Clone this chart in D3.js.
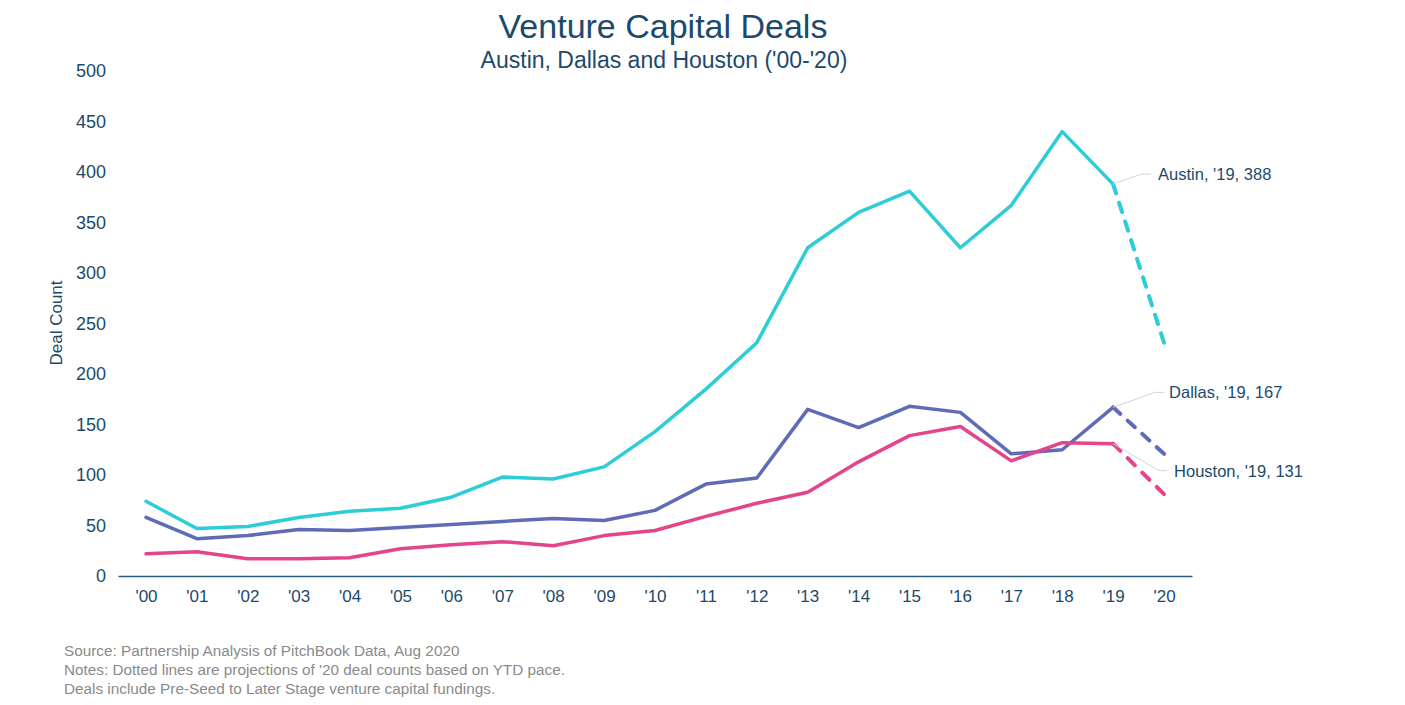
<!DOCTYPE html>
<html>
<head>
<meta charset="utf-8">
<script src="https://cdn.jsdelivr.net/npm/d3@7"></script>
<style>
  html, body { margin: 0; padding: 0; background: #fff; }
  svg { display: block; font-family: "Liberation Sans", Arial, sans-serif; }
</style>
</head>
<body>
<svg id="chart" width="1405" height="705"></svg>
<script>
const years = ["'00","'01","'02","'03","'04","'05","'06","'07","'08","'09","'10","'11","'12","'13","'14","'15","'16","'17","'18","'19","'20"];
const austin  = [74, 47, 49, 58, 64, 67, 78, 98, 96, 108, 143, 185, 231, 325, 360, 381, 325, 367, 440, 388, 231];
const dallas  = [58, 37, 40, 46, 45, 48, 51, 54, 57, 55, 65, 91, 97, 165, 147, 168, 162, 121, 125, 167, 121];
const houston = [22, 24, 17, 17, 18, 27, 31, 34, 30, 40, 45, 59, 72, 83, 113, 139, 148, 114, 132, 131, 81];
const yTicks = [0, 50, 100, 150, 200, 250, 300, 350, 400, 450, 500];
const seriesNames = ["Austin", "Dallas", "Houston"];
const seriesColors = ["#2ccdd6", "#5f6bb7", "#e5438a"];
const titleText = "Venture Capital Deals";
const subtitleText = "Austin, Dallas and Houston ('00-'20)";
const yAxisTitle = "Deal Count";
const footnotes = [
  "Source: Partnership Analysis of PitchBook Data, Aug 2020",
  "Notes: Dotted lines are projections of '20 deal counts based on YTD pace.",
  "Deals include Pre-Seed to Later Stage venture capital fundings."
];

const svg = d3.select("#chart");
const textColor = "#1c4a6b";

const x = d3.scalePoint().domain(years).range([118, 1192]).padding(0.55);
const y = d3.scaleLinear().domain([0, 500]).range([576, 71]);

// Title
svg.append("text").attr("x", 663).attr("y", 38).attr("text-anchor", "middle")
  .attr("font-size", 34).attr("fill", textColor).text(titleText);
svg.append("text").attr("x", 664).attr("y", 68).attr("text-anchor", "middle")
  .attr("font-size", 23).attr("fill", textColor).text(subtitleText);

// Y axis (labels only)
const yAxis = d3.axisLeft(y).tickValues(yTicks).tickSize(0).tickPadding(0);
const gy = svg.append("g").attr("transform", "translate(106,0)").call(yAxis);
gy.select(".domain").remove();
gy.selectAll("text").attr("font-size", 18).attr("fill", textColor)
  .attr("font-family", "'Liberation Sans', Arial, sans-serif");

// X axis
const xAxis = d3.axisBottom(x).tickSize(0).tickPadding(14);
const gx = svg.append("g").attr("transform", `translate(0,${y(0)})`).call(xAxis);
gx.select(".domain").attr("stroke", "#2c5f80").attr("stroke-width", 1.5);
gx.selectAll("text").attr("font-size", 17).attr("fill", textColor)
  .attr("font-family", "'Liberation Sans', Arial, sans-serif");

// Y axis title
svg.append("text").attr("transform", "translate(62,323) rotate(-90)")
  .attr("text-anchor", "middle").attr("font-size", 17).attr("fill", textColor).text(yAxisTitle);

// Lines
const data = [austin, dallas, houston];
const line = d3.line().x(d => x(d.year)).y(d => y(d.value));
data.forEach((vals, i) => {
  const pts = vals.map((v, j) => ({year: years[j], value: v}));
  const solid = pts.slice(0, pts.length - 1);
  const dashed = pts.slice(pts.length - 2);
  svg.append("path").attr("d", line(solid)).attr("fill", "none")
    .attr("stroke", seriesColors[i]).attr("stroke-width", 3.5)
    .attr("stroke-linejoin", "round").attr("stroke-linecap", "round");
  const dp = svg.append("path").attr("d", line(dashed)).attr("fill", "none")
    .attr("stroke", seriesColors[i]).attr("stroke-width", 4)
    .attr("stroke-linecap", "round");
  const L = dp.node().getTotalLength();
  const d0 = 10, g0 = 10;
  const n = Math.max(1, Math.round((L + g0) / (d0 + g0)));
  const s = L / (n * d0 + (n - 1) * g0);
  dp.attr("stroke-dasharray", `${d0 * s},${g0 * s}`);
});

// Annotations for '19
const lastIdx = years.length - 2;
const annOffsets = [
  {dx: 28, dy: -10, hx: 10, tx: 7},
  {dx: 42, dy: -15, hx: 9, tx: 5},
  {dx: 46, dy: 27, hx: 8, tx: 7}
];
data.forEach((vals, i) => {
  const px = x(years[lastIdx]), py = y(vals[lastIdx]);
  const o = annOffsets[i];
  const ex = px + o.dx, ey = py + o.dy;
  svg.append("path")
    .attr("d", `M${px},${py}L${ex},${ey}L${ex + o.hx},${ey}`)
    .attr("fill", "none").attr("stroke", "#d4d4d4").attr("stroke-width", 1);
  svg.append("text").attr("x", ex + o.hx + o.tx).attr("y", ey)
    .attr("dominant-baseline", "central").attr("font-size", 16.5).attr("fill", textColor)
    .text(`${seriesNames[i]}, ${years[lastIdx]}, ${vals[lastIdx]}`);
});

// Footnotes
footnotes.forEach((t, i) => {
  svg.append("text").attr("x", 64).attr("y", 656 + i * 19)
    .attr("font-size", 15.3).attr("fill", "#8a8a8a").text(t);
});
</script>
</body>
</html>
